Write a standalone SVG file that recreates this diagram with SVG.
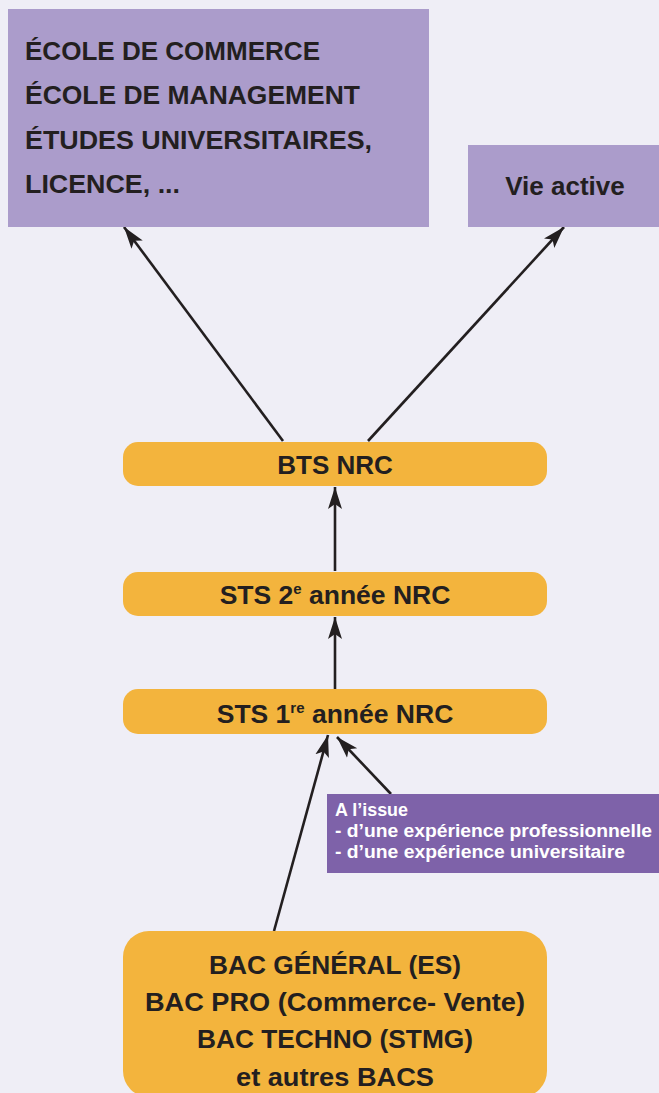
<svg xmlns="http://www.w3.org/2000/svg" width="659" height="1093" viewBox="0 0 659 1093">
<defs>
<style>
.t{font-family:"Liberation Sans",Arial,sans-serif;font-weight:bold;fill:#231f20}
.w{font-family:"Liberation Sans",Arial,sans-serif;font-weight:bold;fill:#ffffff;font-size:17.5px}
.lav{fill:#ab9ccb}
.org{fill:#f3b43d}
.pur{fill:#7e62a9}
.c{stroke:#231f20;stroke-width:2.6;fill:none;marker-end:url(#ah)}
</style>
<marker id="ah" markerUnits="userSpaceOnUse" markerWidth="24" markerHeight="16" refX="22" refY="8" orient="auto" viewBox="0 0 24 16">
<path d="M0,1 L22,8 L0,15 L5,8 Z" fill="#231f20"/>
</marker>
</defs>
<rect width="659" height="1093" fill="#efeef6"/>

<g id="connectors">
<line class="c" x1="283" y1="441" x2="124" y2="227"/>
<line class="c" x1="368" y1="441" x2="564" y2="227"/>
<line class="c" x1="335" y1="571" x2="335" y2="487"/>
<line class="c" x1="335" y1="689" x2="335" y2="617"/>
<line class="c" x1="274" y1="931" x2="328" y2="735"/>
<line class="c" x1="391" y1="794" x2="337" y2="737"/>
</g>

<g id="ecoles">
<rect class="lav" x="8" y="9" width="421" height="218"/>
<text class="t" font-size="25.5" x="25" y="60" textLength="295" lengthAdjust="spacingAndGlyphs">ÉCOLE DE COMMERCE</text>
<text class="t" font-size="25.5" x="25" y="104" textLength="335" lengthAdjust="spacingAndGlyphs">ÉCOLE DE MANAGEMENT</text>
<text class="t" font-size="25.5" x="25" y="149" textLength="347" lengthAdjust="spacingAndGlyphs">ÉTUDES UNIVERSITAIRES,</text>
<text class="t" font-size="25.5" x="25" y="193" textLength="155" lengthAdjust="spacingAndGlyphs">LICENCE, ...</text>
</g>

<g id="vie-active">
<rect class="lav" x="468" y="145" width="200" height="82"/>
<text class="t" font-size="26" x="565" y="195" text-anchor="middle">Vie active</text>
</g>

<g id="bts">
<rect class="org" x="123" y="442" width="424" height="44" rx="15"/>
<text class="t" font-size="26" x="335" y="474" text-anchor="middle">BTS NRC</text>
</g>

<g id="sts2">
<rect class="org" x="123" y="572" width="424" height="44" rx="15"/>
<text class="t" font-size="26.5" x="335" y="604" text-anchor="middle">STS 2<tspan font-size="15" dy="-10">e</tspan><tspan dy="10"> année NRC</tspan></text>
</g>

<g id="sts1">
<rect class="org" x="123" y="689" width="424" height="45" rx="15"/>
<text class="t" font-size="26.5" x="335" y="723" text-anchor="middle">STS 1<tspan font-size="15" dy="-10">re</tspan><tspan dy="10"> année NRC</tspan></text>
</g>

<g id="note">
<rect class="pur" x="327" y="794" width="340" height="79"/>
<text class="w" x="335" y="816" textLength="73" lengthAdjust="spacingAndGlyphs">A l’issue</text>
<text class="w" x="335" y="837" textLength="317" lengthAdjust="spacingAndGlyphs">- d’une expérience professionnelle</text>
<text class="w" x="335" y="858" textLength="290" lengthAdjust="spacingAndGlyphs">- d’une expérience universitaire</text>
</g>

<g id="bac">
<rect class="org" x="123" y="931" width="424" height="166" rx="26"/>
<text class="t" font-size="26" x="335" y="974" text-anchor="middle" textLength="252" lengthAdjust="spacingAndGlyphs">BAC GÉNÉRAL (ES)</text>
<text class="t" font-size="26" x="335" y="1011" text-anchor="middle" textLength="380" lengthAdjust="spacingAndGlyphs">BAC PRO (Commerce- Vente)</text>
<text class="t" font-size="26" x="335" y="1048" text-anchor="middle" textLength="276" lengthAdjust="spacingAndGlyphs">BAC TECHNO (STMG)</text>
<text class="t" font-size="26" x="335" y="1086" text-anchor="middle" textLength="198" lengthAdjust="spacingAndGlyphs">et autres BACS</text>
</g>
</svg>
